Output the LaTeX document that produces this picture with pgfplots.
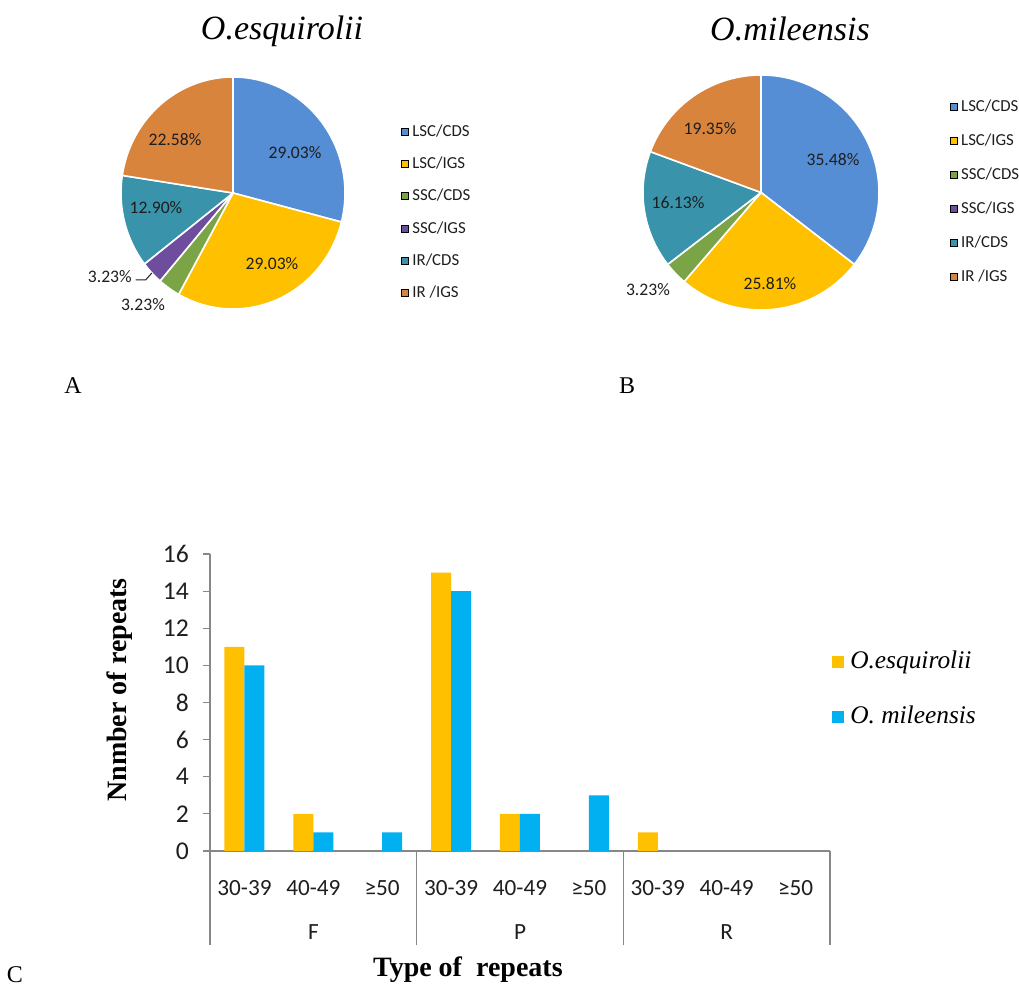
\documentclass[border=0pt]{standalone}
\usepackage{fontspec}
\setmainfont{Liberation Serif}
\newfontfamily\calib{Carlito}
\usepackage{pgfplots}
\pgfplotsset{compat=1.18}

% slice colours
\definecolor{cLcds}{HTML}{558ED5}
\definecolor{cLigs}{HTML}{FFC000}
\definecolor{cScds}{HTML}{7BA447}
\definecolor{cSigs}{HTML}{6E4C9E}
\definecolor{cIcds}{HTML}{3893AB}
\definecolor{cIigs}{HTML}{D9843D}
% bar colours
\definecolor{barY}{HTML}{FFC000}
\definecolor{barB}{HTML}{00B0F0}
\definecolor{axgray}{HTML}{878787}
\definecolor{txt}{HTML}{1E1E1E}

% one pie slice: #1 = share before it (%), #2 = its share (%), #3 = colour
\newcommand\slice[3]{%
  \pgfmathsetmacro\sa{90-3.6*#1}%
  \pgfmathsetmacro\sb{90-3.6*(#1+#2)}%
  \edef\tmp{\noexpand\addplot[forget plot, fill=#3, draw=white, line width=0.8pt,
      line join=round, domain=\sb:\sa, samples=90]
      ({cos(x)},{sin(x)}) -- (axis cs:0,0) -- cycle;}%
  \tmp}

\pgfplotsset{
  pie/.style={
    scale only axis, hide axis, clip=false,
    xmin=-1, xmax=1, ymin=-1, ymax=1,
    legend image code/.code={\fill[##1] (0pt,-1.75pt) rectangle (3.5pt,1.75pt);},
    legend cell align=left,
    legend style={draw=none, fill=none, inner sep=0pt,
      font=\calib\fontsize{8.4}{10}\selectfont\color{txt},
      nodes={inner ysep=0pt, inner xsep=1.6pt, text height=6pt, text depth=1.5pt}},
  },
}
\tikzset{pielabel/.style={font=\calib\fontsize{8.8}{10}\selectfont, text=txt, inner sep=0pt}}

\begin{document}
\begin{tikzpicture}
\useasboundingbox (0pt,0pt) rectangle (509.5pt,494pt);

% ---------- A: O. esquirolii ----------
\begin{axis}[pie, at={(116.5pt,397.5pt)}, anchor=center, width=112pt, height=116pt,
    legend style={at={(1.25,0.798)}, anchor=north west, row sep=8.65pt}]
  \slice{0}{29.03}{cLcds}
  \slice{29.03}{29.03}{cLigs}
  \slice{58.06}{3.23}{cScds}
  \slice{61.29}{3.23}{cSigs}
  \slice{64.52}{12.90}{cIcds}
  \slice{77.42}{22.58}{cIigs}
  \addlegendimage{fill=cLcds}\addlegendentry{LSC/CDS}
  \addlegendimage{fill=cLigs}\addlegendentry{LSC/IGS}
  \addlegendimage{fill=cScds}\addlegendentry{SSC/CDS}
  \addlegendimage{fill=cSigs}\addlegendentry{SSC/IGS}
  \addlegendimage{fill=cIcds}\addlegendentry{IR/CDS}
  \addlegendimage{fill=cIigs}\addlegendentry{IR /IGS}
  \node[pielabel] at (axis cs:0.554,0.345) {29.03\%};
  \node[pielabel] at (axis cs:0.348,-0.612) {29.03\%};
  \node[pielabel] at (axis cs:-0.688,-0.129) {12.90\%};
  \node[pielabel] at (axis cs:-0.518,0.457) {22.58\%};
  \node[pielabel] at (axis cs:-1.10,-0.724) {3.23\%};
  \node[pielabel] at (axis cs:-0.804,-0.966) {3.23\%};
  \draw[txt, line width=0.5pt] (axis cs:-0.87,-0.75) -- (axis cs:-0.78,-0.75) -- (axis cs:-0.725,-0.69);
  \node[font=\itshape\fontsize{17}{20}\selectfont] at (axis description cs:0.719,1.197) {O.esquirolii};
\end{axis}

% ---------- B: O. mileensis ----------
\begin{axis}[pie, at={(380.5pt,397.75pt)}, anchor=center, width=118pt, height=117.5pt,
    legend style={at={(1.30,0.898)}, anchor=north west, row sep=9.5pt}]
  \slice{0}{35.48}{cLcds}
  \slice{35.48}{25.81}{cLigs}
  \slice{61.29}{3.23}{cScds}
  % SSC/IGS: 0.00
  \slice{64.52}{16.13}{cIcds}
  \slice{80.65}{19.35}{cIigs}
  \addlegendimage{fill=cLcds}\addlegendentry{LSC/CDS}
  \addlegendimage{fill=cLigs}\addlegendentry{LSC/IGS}
  \addlegendimage{fill=cScds}\addlegendentry{SSC/CDS}
  \addlegendimage{fill=cSigs}\addlegendentry{SSC/IGS}
  \addlegendimage{fill=cIcds}\addlegendentry{IR/CDS}
  \addlegendimage{fill=cIigs}\addlegendentry{IR /IGS}
  \node[pielabel] at (axis cs:0.61,0.277) {35.48\%};
  \node[pielabel] at (axis cs:0.076,-0.779) {25.81\%};
  \node[pielabel] at (axis cs:-0.703,-0.089) {16.13\%};
  \node[pielabel] at (axis cs:-0.432,0.540) {19.35\%};
  \node[pielabel] at (axis cs:-0.958,-0.83) {3.23\%};
  \node[font=\itshape\fontsize{17}{20}\selectfont] at (axis description cs:0.623,1.195) {O.mileensis};
\end{axis}

\node[font=\fontsize{12}{14}\selectfont] at (36.5pt,301pt) {A};
\node[font=\fontsize{12}{14}\selectfont] at (313.5pt,301pt) {B};
\node[font=\fontsize{12}{14}\selectfont] at (7.5pt,6.5pt) {C};

% ---------- C: repeat counts ----------
\begin{axis}[at={(105pt,68.5pt)}, anchor=south west, width=310pt, height=148.5pt,
    scale only axis, clip=false,
    xmin=-0.5, xmax=8.5, ymin=0, ymax=16, ytick={0,2,...,16},
    ybar=0pt, bar width=10pt,
    % empty categories get no bar
    y filter/.expression={y==0 ? nan : y},
    axis x line*=bottom, axis y line*=left,
    axis line style={draw=axgray, line width=0.6pt, -},
    tick align=outside, major tick length=3.5pt,
    y tick style={draw=axgray, line width=0.6pt},
    x tick style={draw=none},
    xtick={0,...,8},
    xticklabels={30-39,40-49,≥50,30-39,40-49,≥50,30-39,40-49,≥50},
    extra x ticks={-0.5,2.5,5.5,8.5},
    extra x tick labels={,,,},
    extra x tick style={x tick style={draw=axgray, line width=0.6pt}, major tick length=47pt, tick align=outside},
    /pgf/number format/assume math mode=true,
    yticklabel style={font=\calib\fontsize{12.8}{14}\selectfont, text=txt, xshift=-3.5pt},
    xticklabel style={font=\calib\fontsize{11.6}{13}\selectfont, text=txt, yshift=-7.5pt},
    ylabel={\textbf{Nnmber of repeats}},
    ylabel style={at={(axis description cs:-0.145,0.542)}, anchor=center, font=\fontsize{14}{16}\selectfont},
    xlabel={\textbf{Type of~ repeats}},
    xlabel style={at={(axis description cs:0.416,-0.401)}, anchor=center, font=\fontsize{14}{16}\selectfont},
    legend image code/.code={\fill[#1] (0pt,-3pt) rectangle (6pt,3pt);},
    legend cell align=left,
    legend style={at={(1.003,0.677)}, anchor=north west, draw=none, fill=none, inner sep=0pt,
      font=\itshape\fontsize{12.7}{15}\selectfont, row sep=15.5pt,
      nodes={inner ysep=0pt, inner xsep=3pt, text height=9pt, text depth=3pt}},
  ]
  \addplot[fill=barY, draw=none] coordinates {(0,11) (1,2) (2,0) (3,15) (4,2) (5,0) (6,1) (7,0) (8,0)};
  \addplot[fill=barB, draw=none] coordinates {(0,10) (1,1) (2,1) (3,14) (4,2) (5,3) (6,0) (7,0) (8,0)};
  \addlegendentry{O.esquirolii}
  \addlegendentry{O. mileensis}
  \node[font=\calib\fontsize{11.6}{13}\selectfont, text=txt] at ([yshift=-40.5pt]axis cs:1,0) {F};
  \node[font=\calib\fontsize{11.6}{13}\selectfont, text=txt] at ([yshift=-40.5pt]axis cs:4,0) {P};
  \node[font=\calib\fontsize{11.6}{13}\selectfont, text=txt] at ([yshift=-40.5pt]axis cs:7,0) {R};
\end{axis}
\end{tikzpicture}
\end{document}
